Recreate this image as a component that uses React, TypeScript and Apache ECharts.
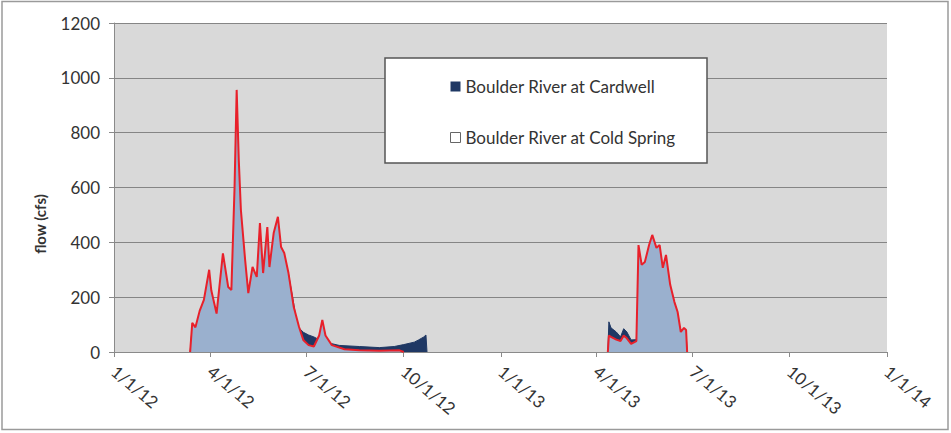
import React, { useEffect, useRef } from "react";
import * as echarts from "echarts";

const tickDates = [
  "2012-01-01", "2012-04-01", "2012-07-01", "2012-10-01", "2013-01-01",
  "2013-04-01", "2013-07-01", "2013-10-01", "2014-01-01",
];
const yTicks = { min: 0, max: 1200, interval: 200 };

const cardwellDates = [
  "2012-03-13", "2012-03-15", "2012-03-18", "2012-03-22", "2012-03-26", "2012-03-31",
  "2012-04-02", "2012-04-07", "2012-04-13", "2012-04-18", "2012-04-21", "2012-04-24",
  "2012-04-26", "2012-04-28", "2012-04-30", "2012-05-04", "2012-05-07", "2012-05-11",
  "2012-05-15", "2012-05-18", "2012-05-21", "2012-05-25", "2012-05-27", "2012-05-31",
  "2012-06-04", "2012-06-07", "2012-06-10", "2012-06-14", "2012-06-19", "2012-06-21",
  "2012-06-24", "2012-06-28", "2012-07-03", "2012-07-08", "2012-07-13", "2012-07-16",
  "2012-07-22", "2012-08-01", "2012-08-20", "2012-09-08", "2012-09-22", "2012-10-01",
  "2012-10-11", "2012-10-15", "2012-10-20", "2012-10-22", "2012-10-23",
  "2013-01-01",
  "2013-04-12", "2013-04-13", "2013-04-15", "2013-04-20", "2013-04-24", "2013-04-27",
  "2013-04-30", "2013-05-04", "2013-05-09", "2013-05-11", "2013-05-14", "2013-05-17",
  "2013-05-21", "2013-05-24", "2013-05-28", "2013-05-31", "2013-06-03", "2013-06-06",
  "2013-06-10", "2013-06-14", "2013-06-17", "2013-06-20", "2013-06-23", "2013-06-25",
  "2013-06-26",
];
const cardwellFlow = [
  0, 95, 85, 135, 170, 265,
  210, 135, 320, 220, 215, 540,
  900, 640, 470, 315, 205, 285,
  262, 430, 275, 415, 300, 400,
  455, 365, 345, 285, 175, 125,
  88, 72, 62, 55, 45, 50,
  33, 24, 20, 16, 20, 27,
  36, 44, 55, 62, 0,
  null,
  0, 110, 88, 73, 55, 85,
  73, 44, 45, 250, 280, 290,
  300, 330, 320, 330, 280, 270,
  210, 160, 120, 80, 75, 70,
  0,
];

const coldSpringDates = [
  "2012-03-13", "2012-03-15", "2012-03-18", "2012-03-22", "2012-03-26", "2012-03-31",
  "2012-04-02", "2012-04-07", "2012-04-13", "2012-04-18", "2012-04-21", "2012-04-24",
  "2012-04-26", "2012-04-28", "2012-04-30", "2012-05-04", "2012-05-07", "2012-05-11",
  "2012-05-15", "2012-05-18", "2012-05-21", "2012-05-25", "2012-05-27", "2012-05-31",
  "2012-06-04", "2012-06-07", "2012-06-10", "2012-06-14", "2012-06-19", "2012-06-24",
  "2012-06-28", "2012-07-03", "2012-07-08", "2012-07-13", "2012-07-16", "2012-07-19",
  "2012-07-25", "2012-08-06", "2012-08-20", "2012-09-08", "2012-09-27", "2012-10-01",
  "2013-01-01",
  "2013-04-12", "2013-04-13", "2013-04-15", "2013-04-20", "2013-04-24", "2013-04-27",
  "2013-04-30", "2013-05-04", "2013-05-09", "2013-05-11", "2013-05-14", "2013-05-17",
  "2013-05-21", "2013-05-24", "2013-05-28", "2013-05-31", "2013-06-03", "2013-06-06",
  "2013-06-10", "2013-06-14", "2013-06-17", "2013-06-20", "2013-06-23", "2013-06-25",
  "2013-06-26",
];
const coldSpringFlow = [
  0, 106, 90, 150, 190, 300,
  225, 140, 360, 237, 226, 600,
  956, 700, 518, 336, 215, 310,
  274, 470, 288, 456, 310, 434,
  493, 383, 361, 288, 164, 91,
  44, 25, 20, 60, 117, 60,
  25, 10, 6, 5, 6, 0,
  null,
  0, 60, 55, 45, 40, 60,
  50, 30, 40, 390, 318, 328,
  390, 427, 380, 390, 307, 354,
  245, 182, 146, 73, 88, 80,
  0,
];

const seriesNames = ["Boulder River at Cardwell", "Boulder River at Cold Spring"];

const toTs = (s: string) => {
  const [y, m, d] = s.split("-").map(Number);
  return new Date(y, m - 1, d).getTime();
};
const pairs = (dates: string[], vals: (number | null)[]) =>
  dates.map((d, i) => [toTs(d), vals[i] === null ? "-" : vals[i]]);

const FONT = "Lato, 'Open Sans', sans-serif";

export default function App() {
  const ref = useRef<HTMLDivElement>(null);
  useEffect(() => {
    if (!ref.current) return;
    const chart = echarts.init(ref.current, null, { renderer: "svg" });
    const tickTs = tickDates.map(toTs);
    chart.setOption({
      animation: false,
      backgroundColor: "#ffffff",
      grid: {
        left: 114,
        right: 64,
        top: 23,
        bottom: 81,
        show: true,
        backgroundColor: "#D9D9D9",
        borderWidth: 0,
      },
      graphic: [
        {
          type: "rect",
          shape: { x: 2, y: 1.5, width: 946, height: 428 },
          style: { fill: "none", stroke: "#9a9a9a", lineWidth: 1.5 },
          silent: true,
        },
        {
          type: "rect",
          z: 10,
          shape: { x: 385, y: 58, width: 322, height: 105 },
          style: { fill: "#ffffff", stroke: "#555555", lineWidth: 1.5 },
          silent: true,
        },
        {
          type: "text",
          x: 40,
          y: 224,
          rotation: Math.PI / 2,
          style: {
            text: "flow (cfs)",
            fontFamily: FONT,
            fontSize: 15,
            fontWeight: "bold",
            fill: "#333333",
            align: "center",
            verticalAlign: "middle",
          },
        },
      ],
      legend: {
        z: 20,
        orient: "vertical",
        left: 445,
        top: 73,
        itemGap: 34,
        itemWidth: 10,
        itemHeight: 10,
        icon: "rect",
        textStyle: { fontFamily: FONT, fontSize: 17, color: "#333333" },
        data: [
          { name: seriesNames[0], itemStyle: { color: "#1F3864" } },
          {
            name: seriesNames[1],
            itemStyle: { color: "#ffffff", borderColor: "#666666", borderWidth: 1 },
          },
        ],
      },
      xAxis: {
        type: "value",
        min: tickTs[0],
        max: tickTs[tickTs.length - 1],
        axisLine: { show: true, lineStyle: { color: "#8a8a8a", width: 1 } },
        axisTick: {
          show: true,
          customValues: tickTs,
          length: 5,
          lineStyle: { color: "#8a8a8a" },
        },
        splitLine: { show: false },
        axisLabel: {
          customValues: tickTs,
          rotate: -40,
          margin: 17,
          fontFamily: FONT,
          fontSize: 17,
          color: "#333333",
          formatter: (v: number) => {
            const d = new Date(v);
            return `${d.getMonth() + 1}/${d.getDate()}/${String(d.getFullYear()).slice(2)}`;
          },
        },
      },
      yAxis: {
        type: "value",
        min: yTicks.min,
        max: yTicks.max,
        interval: yTicks.interval,
        axisLine: { show: true, lineStyle: { color: "#8a8a8a" } },
        axisTick: { show: true, length: 5, lineStyle: { color: "#8a8a8a" } },
        splitLine: { show: true, lineStyle: { color: "#858585", width: 1 } },
        axisLabel: {
          fontFamily: FONT,
          fontSize: 17,
          color: "#333333",
          margin: 14,
          formatter: (v: number) => String(v),
        },
      },
      series: [
        {
          name: seriesNames[0],
          type: "line",
          data: pairs(cardwellDates, cardwellFlow),
          showSymbol: false,
          connectNulls: false,
          z: 2,
          lineStyle: { color: "#1F3864", width: 1 },
          itemStyle: { color: "#1F3864" },
          areaStyle: { color: "#1F3864", opacity: 1 },
        },
        {
          name: seriesNames[1],
          type: "line",
          data: pairs(coldSpringDates, coldSpringFlow),
          showSymbol: false,
          connectNulls: false,
          z: 3,
          lineStyle: { color: "#E8202A", width: 2 },
          itemStyle: { color: "#ffffff" },
          areaStyle: { color: "#9AB0CE", opacity: 1 },
        },
      ],
    });
    return () => chart.dispose();
  }, []);
  return (
    <div
      ref={ref}
      style={{ position: "fixed", left: 0, top: 0, width: 951, height: 433 }}
    />
  );
}
